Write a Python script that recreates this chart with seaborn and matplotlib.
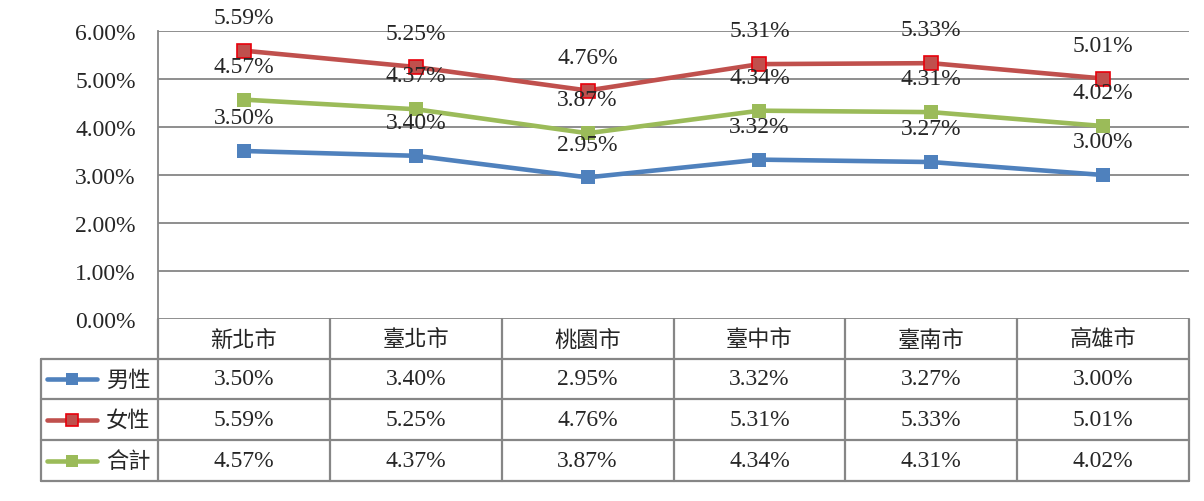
import numpy as np
import pandas as pd
import matplotlib
matplotlib.use("Agg")
import matplotlib.pyplot as plt
import seaborn as sns
from matplotlib.lines import Line2D

sns.set_style("white")
plt.rcParams['font.family'] = ['Liberation Serif', 'Noto Sans CJK TC', 'DejaVu Sans']

# ── 資料 ──────────────────────────────────────────────
CITIES = ["新北市", "臺北市", "桃園市", "臺中市", "臺南市", "高雄市"]
SERIES = ["男性", "女性", "合計"]
MALE   = [3.50, 3.40, 2.95, 3.32, 3.27, 3.00]
FEMALE = [5.59, 5.25, 4.76, 5.31, 5.33, 5.01]
TOTAL  = [4.57, 4.37, 3.87, 4.34, 4.31, 4.02]
COLORS = ["#4F81BD", "#C0504D", "#9BBB59"]
Y_TICKS = [0, 1, 2, 3, 4, 5, 6]

values = [MALE, FEMALE, TOTAL]
df = pd.DataFrame({
    "city":  np.tile(np.arange(len(CITIES)), len(SERIES)),
    "rate":  np.concatenate(values),
    "group": np.repeat(SERIES, len(CITIES)),
})

W, H = 1204, 502
fig = plt.figure(figsize=(W / 100, H / 100), dpi=100)

# 畫素 -> figure 座標
def fx(x):
    return x / W

def fy(y):
    return 1 - y / H

X0, X1 = 158, 1189
Y_TOP, Y_BOT = 32, 320
ax = fig.add_axes([fx(X0), fy(Y_BOT), fx(X1) - fx(X0), fy(Y_TOP) - fy(Y_BOT)])

GRID = "#868686"
FS = 17
sns.lineplot(data=df, x="city", y="rate", hue="group", hue_order=SERIES,
             palette=COLORS, marker="s", markersize=9.5, dashes=False,
             linewidth=3.3, markeredgewidth=0, legend=False, ax=ax, zorder=3)
# 女性 marker 紅框
ax.lines[1].set_markeredgecolor("#E8000B")
ax.lines[1].set_markeredgewidth(1.2)

for ys in Y_TICKS:
    ax.axhline(ys, color=GRID, linewidth=1.3, zorder=1)

ax.set_xlim(-0.5, len(CITIES) - 0.5)
ax.set_ylim(0, 6)
ax.set_yticks(Y_TICKS)
ax.set_yticklabels([f"{v:.2f}%" for v in Y_TICKS], fontsize=FS)
ax.tick_params(axis="y", length=6, width=1.3, color=GRID, pad=10)
ax.set_xticks([])
ax.set_xlabel("")
ax.set_ylabel("")
for s in ["top", "right", "bottom"]:
    ax.spines[s].set_visible(False)
ax.spines["left"].set_color(GRID)
ax.spines["left"].set_linewidth(1.3)

# 資料標籤
for vals in values:
    for i, v in enumerate(vals):
        ax.annotate(f"{v:.2f}%", (i, v), xytext=(0, 24), textcoords="offset points",
                    ha="center", va="center", fontsize=FS, zorder=4,
                    annotation_clip=False)

# ── 資料表 ───────────────────────────────────────────
col_edges = np.linspace(X0, X1, len(CITIES) + 1)
row_edges = [320, 360, 400, 441, 482]
TL = 41
lw = 1.6

def hline(y, xa, xb):
    fig.add_artist(Line2D([fx(xa), fx(xb)], [fy(y), fy(y)], color=GRID,
                          linewidth=lw, transform=fig.transFigure))

def vline(x, ya, yb):
    fig.add_artist(Line2D([fx(x), fx(x)], [fy(ya), fy(yb)], color=GRID,
                          linewidth=lw, transform=fig.transFigure))

for y in row_edges[1:]:
    hline(y, TL, X1)
for x in col_edges:
    vline(x, row_edges[0], row_edges[-1])
vline(TL, row_edges[1], row_edges[-1])

for j, city in enumerate(CITIES):
    cx = (col_edges[j] + col_edges[j + 1]) / 2
    fig.text(fx(cx), fy((row_edges[0] + row_edges[1]) / 2), city,
             ha="center", va="center", fontsize=16, family="Noto Sans CJK TC")

for r, (name, vals, c) in enumerate(zip(SERIES, values, COLORS)):
    cy = (row_edges[r + 1] + row_edges[r + 2]) / 2
    fig.add_artist(Line2D([fx(47), fx(97)], [fy(cy), fy(cy)], color=c,
                          linewidth=3.3, solid_capstyle="round", transform=fig.transFigure))
    fig.add_artist(Line2D([fx(72)], [fy(cy)], color=c, marker="s", markersize=8.5,
                          markeredgecolor="#E8000B" if r == 1 else c,
                          markeredgewidth=1.2 if r == 1 else 0,
                          transform=fig.transFigure))
    fig.text(fx(128), fy(cy), name, ha="center", va="center", fontsize=16,
             family="Noto Sans CJK TC")
    for j, v in enumerate(vals):
        cx = (col_edges[j] + col_edges[j + 1]) / 2
        fig.text(fx(cx), fy(cy), f"{v:.2f}%", ha="center", va="center", fontsize=FS)

fig.savefig("out.png", dpi=100)
